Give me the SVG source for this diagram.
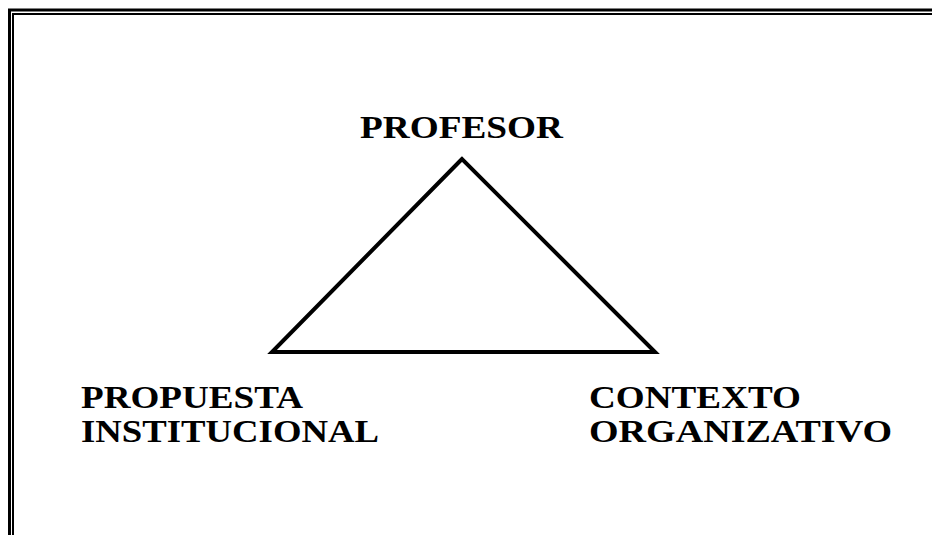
<svg xmlns="http://www.w3.org/2000/svg" width="932" height="535" viewBox="0 0 932 535">
<style>
.lbl{font-family:"Liberation Serif","Times New Roman",serif;font-weight:bold;font-size:31px;fill:#000}
.frame{fill:none;stroke:#000}
</style>
<rect width="932" height="535" fill="#fff"/>
<g id="frame">
<polyline class="frame" points="9.5,535 9.5,10 932,10" stroke-width="3"/>
<polyline class="frame" points="13,535 13,14 932,14" stroke-width="2"/>
</g>
<g id="connectors">
<polygon points="462,159 272,352 655,352" fill="none" stroke="#000" stroke-width="4" stroke-linejoin="miter"/>
</g>
<g id="profesor">
<text class="lbl" x="360" y="138" textLength="203" lengthAdjust="spacingAndGlyphs">PROFESOR</text>
</g>
<g id="propuesta">
<text class="lbl" x="81" y="408" textLength="222" lengthAdjust="spacingAndGlyphs">PROPUESTA</text>
<text class="lbl" x="81" y="442" textLength="298" lengthAdjust="spacingAndGlyphs">INSTITUCIONAL</text>
</g>
<g id="contexto">
<text class="lbl" x="589" y="408" textLength="212" lengthAdjust="spacingAndGlyphs">CONTEXTO</text>
<text class="lbl" x="589" y="442" textLength="303" lengthAdjust="spacingAndGlyphs">ORGANIZATIVO</text>
</g>
</svg>
